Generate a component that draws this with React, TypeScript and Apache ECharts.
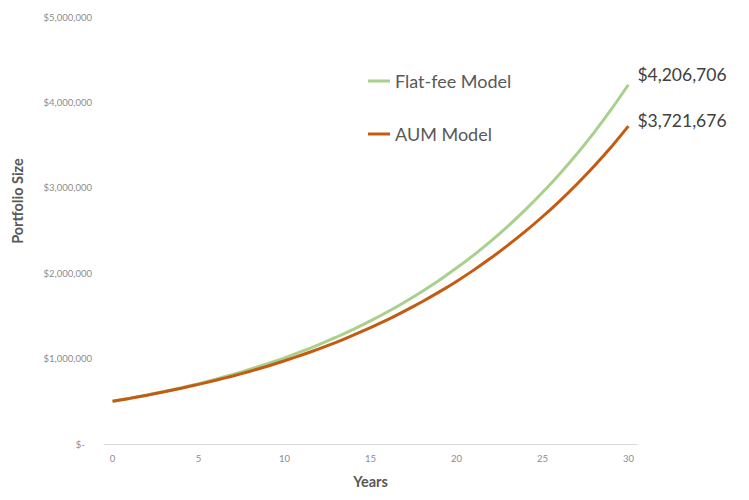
import React, { useEffect, useRef } from "react";
import * as echarts from "echarts";

const years: string[] = Array.from({ length: 31 }, (_, i) => String(i));

const flatFee: number[] = [
  500000, 535000, 573000, 614000, 659000, 707000, 759000, 815000, 875000, 940000,
  1009000, 1084000, 1164000, 1250000, 1342000, 1441000, 1548000, 1663000, 1786000, 1918000,
  2060000, 2212000, 2376000, 2552000, 2741000, 2944000, 3162000, 3396000, 3647000, 3917000,
  4206706,
];

const aum: number[] = [
  500000, 534000, 571000, 611000, 653000, 698000, 746000, 797000, 852000, 911000,
  975000, 1042000, 1114000, 1191000, 1274000, 1363000, 1457000, 1558000, 1666000, 1781000,
  1904000, 2036000, 2177000, 2328000, 2489000, 2661000, 2845000, 3042000, 3252000, 3477000,
  3721676,
];

const seriesNames = ["Flat-fee Model", "AUM Model"];
const colors = ["#A9D18E", "#C55A11"];

const fmt = (v: number) => "$" + Math.round(v).toLocaleString("en-US");
const FONT = "Lato";

export default function App() {
  const ref = useRef<HTMLDivElement>(null);
  useEffect(() => {
    if (!ref.current) return;
    const chart = echarts.init(ref.current, undefined, { renderer: "svg" });
    chart.setOption({
      animation: false,
      backgroundColor: "#ffffff",
      textStyle: { fontFamily: FONT },
      grid: { left: 104, right: 112, top: 17, bottom: 56, containLabel: false },
      legend: {
        orient: "vertical",
        left: 363,
        top: 67,
        icon: "rect",
        itemWidth: 22,
        itemHeight: 3,
        itemGap: 35,
        textStyle: { fontSize: 18, color: "#595959", fontFamily: FONT },
        data: seriesNames,
      },
      xAxis: {
        type: "category",
        data: years,
        boundaryGap: true,
        name: "Years",
        nameLocation: "middle",
        nameGap: 30,
        nameTextStyle: { fontSize: 14.5, fontWeight: "bold", color: "#595959", fontFamily: FONT },
        axisLine: { lineStyle: { color: "#d9d9d9", width: 1 } },
        axisTick: { show: false },
        axisLabel: { interval: 4, color: "#8c8c8c", fontSize: 9.5, margin: 9, fontFamily: FONT },
        splitLine: { show: false },
      },
      yAxis: {
        type: "value",
        min: 0,
        max: 5000000,
        interval: 1000000,
        axisLine: { show: false },
        axisTick: { show: false },
        splitLine: { show: false },
        axisLabel: {
          color: "#8c8c8c",
          fontSize: 9.5,
          margin: 12,
          fontFamily: FONT,
          formatter: (v: number) => (v === 0 ? "$-   " : fmt(v)),
        },
      },
      graphic: [
        {
          type: "text",
          x: 17,
          y: 201,
          rotation: Math.PI / 2,
          style: {
            text: "Portfolio Size",
            fontSize: 14.5,
            fontWeight: "bold",
            fill: "#595959",
            fontFamily: FONT,
            align: "center",
            verticalAlign: "middle",
          },
        },
      ],
      series: [
        {
          name: seriesNames[0],
          type: "line",
          data: flatFee,
          symbol: "none",
          smooth: 0.2,
          lineStyle: { color: colors[0], width: 3 },
          itemStyle: { color: colors[0] },
          endLabel: {
            show: true,
            formatter: (p: any) => fmt(p.value),
            fontSize: 17.5,
            color: "#404040",
            fontFamily: FONT,
            offset: [1, -10],
          },
          z: 2,
        },
        {
          name: seriesNames[1],
          type: "line",
          data: aum,
          symbol: "none",
          smooth: 0.2,
          lineStyle: { color: colors[1], width: 3 },
          itemStyle: { color: colors[1] },
          endLabel: {
            show: true,
            formatter: (p: any) => fmt(p.value),
            fontSize: 17.5,
            color: "#404040",
            fontFamily: FONT,
            offset: [1, -6],
          },
          z: 3,
        },
      ],
    });
    return () => chart.dispose();
  }, []);
  return <div ref={ref} style={{ width: 749, height: 500, position: "absolute", left: 0, top: 0 }} />;
}
